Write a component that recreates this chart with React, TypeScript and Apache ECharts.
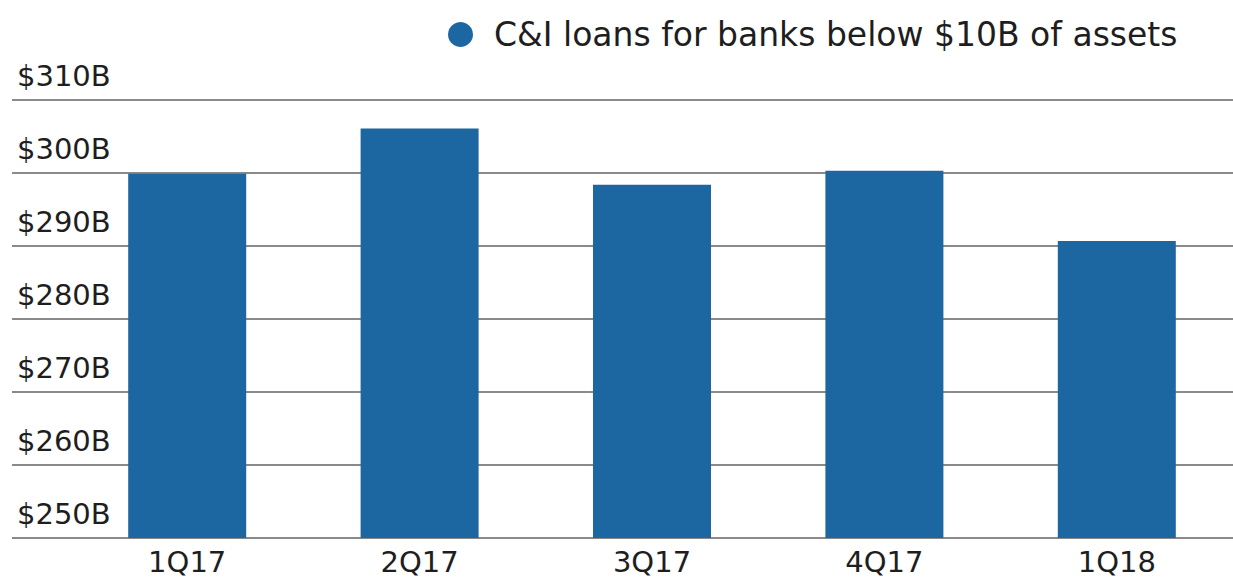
import React, { useEffect, useRef } from "react";
import * as echarts from "echarts";

const categories = ["1Q17", "2Q17", "3Q17", "4Q17", "1Q18"];
const loanValues = [299.9, 306.1, 298.4, 300.3, 290.7];
const seriesName = "C&I loans for banks below $10B of assets";
const yMin = 250;
const yMax = 310;
const yStep = 10;

export default function App() {
  const ref = useRef<HTMLDivElement>(null);
  useEffect(() => {
    if (!ref.current) return;
    const chart = echarts.init(ref.current, undefined, { renderer: "svg" });
    const font = "'DejaVu Sans', 'Noto Sans', sans-serif";
    chart.setOption({
      animation: false,
      backgroundColor: "#ffffff",
      textStyle: { fontFamily: font },
      legend: {
        show: true,
        left: 443,
        top: 13,
        icon: "circle",
        itemWidth: 25,
        itemHeight: 25,
        itemGap: 10,
        textStyle: { fontSize: 33, color: "#1e1e1e", fontFamily: font, padding: [0, 0, 0, 16] },
        data: [seriesName],
      },
      grid: [
        { left: 12, right: 0, top: 100, bottom: 40, containLabel: false },
        { left: 71, right: 0, top: 100, bottom: 40, containLabel: false },
      ],
      xAxis: [
        { type: "category", gridIndex: 0, data: categories, show: false },
        {
          type: "category",
          gridIndex: 1,
          data: categories,
          axisLine: { show: false },
          axisTick: { show: false },
          axisLabel: { fontSize: 29, color: "#1e1e1e", margin: 9, fontFamily: font },
        },
      ],
      yAxis: [
        {
          type: "value",
          gridIndex: 0,
          min: yMin,
          max: yMax,
          interval: yStep,
          axisLine: { show: false },
          axisTick: { show: false },
          splitLine: { show: true, lineStyle: { color: "#8a8a8a", width: 2 } },
          axisLabel: {
            inside: true,
            margin: 5,
            fontSize: 29,
            color: "#1e1e1e",
            fontFamily: font,
            verticalAlign: "bottom",
            padding: [0, 0, 10, 0],
            formatter: (v: number) => "$" + v + "B",
          },
        },
        {
          type: "value",
          gridIndex: 1,
          min: yMin,
          max: yMax,
          interval: yStep,
          show: false,
          splitLine: { show: false },
        },
      ],
      series: [
        {
          name: seriesName,
          type: "bar",
          xAxisIndex: 1,
          yAxisIndex: 1,
          data: loanValues,
          barWidth: 118,
          itemStyle: { color: "#1c66a1" },
        },
      ],
    });
    return () => chart.dispose();
  }, []);
  return (
    <div
      ref={ref}
      style={{ position: "fixed", left: 0, top: 0, width: 1233, height: 578, background: "#fff" }}
    />
  );
}
